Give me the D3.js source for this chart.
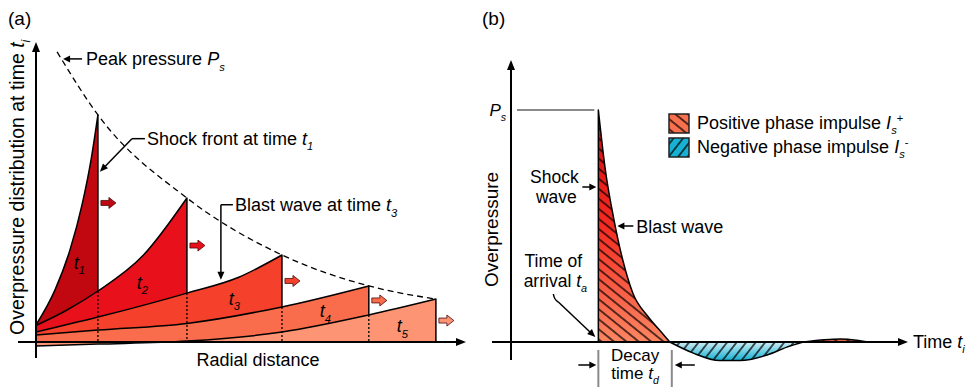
<!DOCTYPE html>
<html>
<head>
<meta charset="utf-8">
<script src="https://cdn.jsdelivr.net/npm/d3@7"></script>
<style>
body { margin: 0; background: #fff; }
svg { display: block; font-family: "Liberation Sans", Arial, sans-serif; }
</style>
</head>
<body>
<svg id="fig" width="972" height="387"></svg>
<script>
// ---- panel (a) data: overpressure vs radial distance at times t1..t5
var waveNames = ["1", "2", "3", "4", "5"];
var wave1 = [[0, 0.57], [0.44, 1.73], [0.79, 3.07], [1.07, 4.57], [1.28, 6.07], [1.44, 7.57]];
var wave2 = [[0, 0.55], [0.7, 1.05], [1.44, 1.70], [2.5, 2.9], [3.51, 4.8]];
var wave3 = [[0, 0.33], [1.44, 0.83], [3.51, 1.63], [4.7, 2.15], [5.72, 2.9]];
var wave4 = [[0, 0.23], [1.44, 0.4], [3.51, 0.62], [5.72, 1.17], [7.74, 1.87]];
var wave5 = [[0, -0.13], [1.44, -0.07], [3.51, 0.03], [5.72, 0.33], [7.74, 0.9], [9.30, 1.43]];
var envelopeStart = [0.49, 9.67];
var waveColors = ["#c1070f", "#e8111b", "#f5402b", "#f96c4c", "#fd9474"];

// ---- panel (b) data: pressure history at a point
var arrivalTime = 22;
var decayTime = 18;
var positivePhase = [[22, 1], [23.7, 0.75], [25.9, 0.53], [28.2, 0.35], [30.7, 0.21], [34.5, 0.11], [38, 0.04], [40, 0]];
var negativePhase = [[40, 0], [45.8, -0.047], [52.6, -0.08], [57.7, -0.08], [64.5, -0.056], [69.5, -0.022], [73.6, 0]];
var secondBump = [[73.6, 0], [79, 0.01], [83, 0.013], [87, 0.008], [90, 0]];
var legendItems = [
  {name: "Positive phase impulse ", sign: "+", fill: "#f8704e", hatch: "hatchPos"},
  {name: "Negative phase impulse ", sign: "-", fill: "#17b2d3", hatch: "hatchNeg"}
];

var waves = [wave1, wave2, wave3, wave4, wave5];
var fronts = waves.map(function(w) { return w[w.length - 1][0]; });
var peaks = waves.map(function(w) { return w[w.length - 1][1]; });
var envelope = [envelopeStart].concat(waves.map(function(w) { return w[w.length - 1]; }));

var svg = d3.select("#fig");
var defs = svg.append("defs");

function valueAt(pts, r) {
  for (var i = 1; i < pts.length; i++) {
    if (r <= pts[i][0]) {
      var a = pts[i - 1], b = pts[i];
      return a[1] + (b[1] - a[1]) * (r - a[0]) / (b[0] - a[0]);
    }
  }
  return pts[pts.length - 1][1];
}

function head(g, x2, y2, ux, uy, len, w) {
  var bx = x2 - ux * len, by = y2 - uy * len;
  g.append("path")
    .attr("d", "M" + x2 + "," + y2 + "L" + (bx - uy * w / 2) + "," + (by + ux * w / 2) +
               "L" + (bx + uy * w / 2) + "," + (by - ux * w / 2) + "Z")
    .attr("fill", "#000");
}

// straight arrow with a filled head at (x2,y2)
function arrow(g, x1, y1, x2, y2, len, w, sw) {
  var dx = x2 - x1, dy = y2 - y1, d = Math.sqrt(dx * dx + dy * dy);
  var ux = dx / d, uy = dy / d;
  g.append("line").attr("x1", x1).attr("y1", y1)
    .attr("x2", x2 - ux * (len - 1)).attr("y2", y2 - uy * (len - 1))
    .attr("stroke", "#000").attr("stroke-width", sw);
  head(g, x2, y2, ux, uy, len, w);
}

// text with italic / subscript / superscript parts
function richText(g, x, y, parts, size, anchor) {
  var t = g.append("text").attr("x", x).attr("y", y)
    .attr("font-size", size).attr("text-anchor", anchor || "start").attr("fill", "#000");
  var shift = 0;
  parts.forEach(function(p) {
    var target = p.sub ? size * 0.3 : p.sup ? -size * 0.38 : 0;
    var s = t.append("tspan").attr("dy", target - shift).text(p.t);
    shift = target;
    if (p.it) s.attr("font-style", "italic");
    if (p.sub || p.sup) s.attr("font-size", size * 0.62);
  });
  return t;
}

// ================= panel (a) =================
var xA = d3.scaleLinear().domain([0, 10]).range([36, 466]);
var yA = d3.scaleLinear().domain([0, 10]).range([342, 42]);
var gA = svg.append("g");

var areaA = d3.area()
  .x(function(d) { return xA(d[0]); })
  .y0(yA(0))
  .y1(function(d) { return yA(d[1]); })
  .curve(d3.curveMonotoneX);

waves.forEach(function(w, i) {
  gA.append("path")
    .attr("d", areaA(w))
    .attr("fill", waveColors[i])
    .attr("stroke", "#000")
    .attr("stroke-width", 1.5)
    .attr("stroke-linejoin", "round");
});

// dotted continuation of hidden shock fronts
fronts.slice(0, 4).forEach(function(f, i) {
  gA.append("line")
    .attr("x1", xA(f)).attr("x2", xA(f))
    .attr("y1", yA(valueAt(waves[i + 1], f))).attr("y2", yA(0))
    .attr("stroke", "#000").attr("stroke-width", 1.3).attr("stroke-dasharray", "2,2");
});

// peak pressure envelope
gA.append("path")
  .attr("d", d3.line().x(function(d) { return xA(d[0]); }).y(function(d) { return yA(d[1]); })
    .curve(d3.curveMonotoneX)(envelope))
  .attr("fill", "none").attr("stroke", "#000").attr("stroke-width", 1.3)
  .attr("stroke-dasharray", "6,4");

// propagation block arrows
fronts.forEach(function(f, i) {
  var lower = i < 4 ? valueAt(waves[i + 1], f) : 0;
  var x = xA(f) + 3, y = yA((peaks[i] + lower) / 2);
  gA.append("path")
    .attr("d", "M" + x + "," + (y - 2.5) + "H" + (x + 8) + "V" + (y - 5.5) + "L" + (x + 15) + "," + y +
               "L" + (x + 8) + "," + (y + 5.5) + "V" + (y + 2.5) + "H" + x + "Z")
    .attr("fill", waveColors[i]).attr("stroke", "#4a0a0a").attr("stroke-width", 0.8);
});

// t_i labels inside each wave
fronts.forEach(function(f, i) {
  var lx = i === 0 ? f * 0.7 : (fronts[i - 1] + f) / 2;
  var upper = valueAt(waves[i], lx);
  var lower = i < 4 ? Math.max(0, valueAt(waves[i + 1], lx)) : 0;
  richText(gA, xA(lx), yA(lower + (upper - lower) * 0.45) + 6,
    [{t: "t", it: true}, {t: waveNames[i], it: true, sub: true}], 18, "middle");
});

// axes
gA.append("line").attr("x1", 18).attr("x2", xA(10) - 8).attr("y1", yA(0)).attr("y2", yA(0))
  .attr("stroke", "#000").attr("stroke-width", 2);
head(gA, xA(10), yA(0), 1, 0, 10, 8);
gA.append("line").attr("x1", xA(0)).attr("x2", xA(0)).attr("y1", 358).attr("y2", yA(10) + 8)
  .attr("stroke", "#000").attr("stroke-width", 2);
head(gA, xA(0), yA(10), 0, -1, 10, 8);

gA.append("text").attr("x", 8).attr("y", 25).attr("font-size", 19).text("(a)");
gA.append("text").attr("x", (xA(0) + xA(10)) / 2 + 7).attr("y", 366).attr("font-size", 18)
  .attr("text-anchor", "middle").text("Radial distance");
var yLabA = gA.append("g").attr("transform", "translate(24," + 335 + ") rotate(-90)");
richText(yLabA, 0, 0, [{t: "Overpressure distribution at time "}, {t: "t", it: true}, {t: "i", it: true, sub: true}], 19.5);

// annotations
var pTip = [xA(envelopeStart[0]) + 6, yA(envelopeStart[1]) + 7];
arrow(gA, pTip[0] + 19, pTip[1], pTip[0], pTip[1], 7, 7, 1.5);
richText(gA, pTip[0] + 23, pTip[1] + 6.5,
  [{t: "Peak pressure "}, {t: "P", it: true}, {t: "s", it: true, sub: true}], 18);

var sTip = [xA(fronts[0]) + 2, yA(peaks[0] * 0.75)];
gA.append("polyline")
  .attr("points", [[sTip[0] + 45, sTip[1] - 33], [sTip[0] + 32, sTip[1] - 33]].join(" "))
  .attr("fill", "none").attr("stroke", "#000").attr("stroke-width", 1.5);
arrow(gA, sTip[0] + 32, sTip[1] - 33, sTip[0], sTip[1], 8, 7, 1.5);
richText(gA, sTip[0] + 47, sTip[1] - 27,
  [{t: "Shock front at time "}, {t: "t", it: true}, {t: "1", it: true, sub: true}], 18);

var bTip = [xA(4.3), yA(valueAt(wave3, 4.3)) - 3];
gA.append("polyline")
  .attr("points", [[bTip[0] + 12, bTip[1] - 75], [bTip[0], bTip[1] - 75]].join(" "))
  .attr("fill", "none").attr("stroke", "#000").attr("stroke-width", 1.5);
arrow(gA, bTip[0], bTip[1] - 75, bTip[0], bTip[1], 8, 7, 1.5);
richText(gA, bTip[0] + 14, bTip[1] - 68.5,
  [{t: "Blast wave at time "}, {t: "t", it: true}, {t: "3", it: true, sub: true}], 18);

// ================= panel (b) =================
var xB = d3.scaleLinear().domain([0, 100]).range([511, 908]);
var yB = d3.scaleLinear().domain([0, 1]).range([342, 110]);
var gB = svg.append("g");

var gradPos = defs.append("linearGradient").attr("id", "gradPos")
  .attr("gradientUnits", "userSpaceOnUse")
  .attr("x1", 0).attr("x2", 0).attr("y1", yB(1)).attr("y2", yB(0));
gradPos.append("stop").attr("offset", 0).attr("stop-color", "#d20910");
gradPos.append("stop").attr("offset", 0.5).attr("stop-color", "#f52b21");
gradPos.append("stop").attr("offset", 1).attr("stop-color", "#fc8662");

var gradNeg = defs.append("linearGradient").attr("id", "gradNeg")
  .attr("gradientUnits", "userSpaceOnUse")
  .attr("x1", 0).attr("x2", 0).attr("y1", yB(0)).attr("y2", yB(-0.08));
gradNeg.append("stop").attr("offset", 0).attr("stop-color", "#cdeef5");
gradNeg.append("stop").attr("offset", 1).attr("stop-color", "#14afd2");

function hatch(id, angle, gap) {
  var p = defs.append("pattern").attr("id", id).attr("patternUnits", "userSpaceOnUse")
    .attr("width", 20).attr("height", gap).attr("patternTransform", "rotate(" + angle + ")");
  p.append("line").attr("x1", 0).attr("x2", 20).attr("y1", gap / 2).attr("y2", gap / 2)
    .attr("stroke", "#000").attr("stroke-width", 1.3);
}
hatch("hatchPos", 39, 7.8);
hatch("hatchNeg", -52, 7.5);

var areaB = d3.area()
  .x(function(d) { return xB(d[0]); })
  .y0(yB(0))
  .y1(function(d) { return yB(d[1]); })
  .curve(d3.curveMonotoneX);

[[positivePhase, "url(#gradPos)", "url(#hatchPos)"],
 [negativePhase, "url(#gradNeg)", "url(#hatchNeg)"],
 [secondBump, "#e8643e", "url(#hatchPos)"]].forEach(function(s) {
  gB.append("path").attr("d", areaB(s[0])).attr("fill", s[1]);
  gB.append("path").attr("d", areaB(s[0])).attr("fill", s[2])
    .attr("stroke", "#000").attr("stroke-width", 1.5).attr("stroke-linejoin", "round");
});

// axes
gB.append("line").attr("x1", 492).attr("x2", xB(100) - 8).attr("y1", yB(0)).attr("y2", yB(0))
  .attr("stroke", "#000").attr("stroke-width", 2);
head(gB, xB(100), yB(0), 1, 0, 10, 8);
gB.append("line").attr("x1", xB(0)).attr("x2", xB(0)).attr("y1", 360).attr("y2", 68)
  .attr("stroke", "#000").attr("stroke-width", 2);
head(gB, xB(0), 60, 0, -1, 10, 8);

gB.append("text").attr("x", 482).attr("y", 25).attr("font-size", 19).text("(b)");
richText(gB, xB(100) + 5, yB(0) + 6, [{t: "Time "}, {t: "t", it: true}, {t: "i", it: true, sub: true}], 18);
gB.append("text").attr("transform", "translate(498,287) rotate(-90)")
  .attr("font-size", 19).text("Overpressure");

// peak level
gB.append("line").attr("x1", xB(0) + 6).attr("x2", xB(arrivalTime) - 4)
  .attr("y1", yB(1)).attr("y2", yB(1)).attr("stroke", "#8a8a8a").attr("stroke-width", 2);
richText(gB, xB(0) - 5, yB(1) + 6, [{t: "P", it: true}, {t: "s", it: true, sub: true}], 17, "end");

// decay time bracket
var xa = xB(arrivalTime), xd = xB(arrivalTime + decayTime) + 2;
[xa, xd].forEach(function(x) {
  gB.append("line").attr("x1", x).attr("x2", x).attr("y1", 350).attr("y2", 387)
    .attr("stroke", "#8a8a8a").attr("stroke-width", 2);
});
arrow(gB, xa - 20, 365, xa - 2, 365, 7, 7, 1.5);
arrow(gB, xd + 23, 365, xd + 3, 365, 7, 7, 1.5);
richText(gB, (xa + xd) / 2, 360.5, [{t: "Decay"}], 17, "middle");
richText(gB, (xa + xd) / 2, 378.5, [{t: "time "}, {t: "t", it: true}, {t: "d", it: true, sub: true}], 17, "middle");

// shock wave / blast wave / arrival labels
richText(gB, xa - 44, 183, [{t: "Shock"}], 17.5, "middle");
richText(gB, xa - 42, 202.5, [{t: "wave"}], 17.5, "middle");
arrow(gB, xa - 16, 187, xa - 2, 187, 7, 7, 1.5);

var bw = [xB(valueAt(positivePhase.map(function(d) { return [d[1], d[0]]; }).reverse(), 0.5)) + 2, yB(0.5)];
arrow(gB, bw[0] + 16, bw[1], bw[0], bw[1], 7, 7, 1.5);
richText(gB, bw[0] + 19, bw[1] + 6.5, [{t: "Blast wave"}], 18);

richText(gB, xa - 45, 267, [{t: "Time of"}], 17.5, "middle");
richText(gB, xa - 43, 286.5, [{t: "arrival "}, {t: "t", it: true}, {t: "a", it: true, sub: true}], 17.5, "middle");
gB.append("path").attr("d", "M" + (xa - 45) + ",294 Q" + (xa - 44) + ",300 " + (xa - 40) + ",302")
  .attr("fill", "none").attr("stroke", "#000").attr("stroke-width", 1.5);
arrow(gB, xa - 40, 302, xa - 3, yB(0) - 5, 8, 7, 1.5);

// legend
var leg = gB.append("g").attr("transform", "translate(669,114)");
legendItems.forEach(function(d, i) {
  var row = leg.append("g").attr("transform", "translate(0," + i * 24 + ")");
  row.append("rect").attr("width", 20).attr("height", 19).attr("fill", d.fill);
  row.append("rect").attr("width", 20).attr("height", 19).attr("fill", "url(#" + d.hatch + ")")
    .attr("stroke", "#222").attr("stroke-width", 1.5);
  richText(row, 28, 15, [{t: d.name}, {t: "I", it: true}, {t: "s", it: true, sub: true}, {t: d.sign, sup: true}], 18);
});
</script>
</body>
</html>
